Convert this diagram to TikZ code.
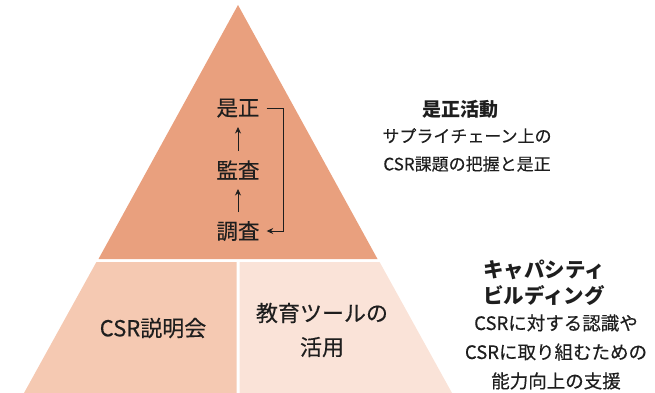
\documentclass[tikz,border=0pt]{standalone}
\usepackage{fontspec}
\setmainfont{Noto Sans CJK JP}
\newfontfamily\medfont{Noto Sans CJK JP}[FakeBold=0.35]
\usetikzlibrary{arrows.meta}
\definecolor{topc}{HTML}{E9A07E}
\definecolor{leftc}{HTML}{F5C9B2}
\definecolor{rightc}{HTML}{FAE3D8}
\definecolor{txt}{HTML}{1E1E1E}
\tikzset{
  steplabel/.style={text=txt, font=\medfont\fontsize{21.5}{24}\selectfont, inner sep=1pt},
  blocklabel/.style={text=txt, font=\medfont\fontsize{22}{34}\selectfont, align=center, inner sep=0pt},
  headlabel/.style={text=txt, font=\bfseries\fontsize{19}{26}\selectfont, align=center, inner sep=0pt},
  headlabelb/.style={text=txt, font=\bfseries\fontsize{20.5}{26}\selectfont, align=center, inner sep=0pt},
  bodylabel/.style={text=txt, font=\medfont\fontsize{17}{28}\selectfont, align=center, inner sep=0pt},
  bodylabelb/.style={text=txt, font=\medfont\fontsize{18.5}{29}\selectfont, align=center, inner sep=0pt},
  flow/.style={draw=txt, line width=0.8pt, -{Stealth[length=6.5pt,width=6pt]}},
}
\begin{document}
\begin{tikzpicture}[x=1pt,y=-1pt]
\useasboundingbox (0,0) rectangle (655,393);
% pyramid
\fill[topc] (238,5) -- (377.5,259) -- (98.5,259) -- cycle;
\fill[leftc] (96.4,262) -- (236.5,262) -- (236.5,393) -- (24,393) -- cycle;
\fill[rightc] (239.5,262) -- (379.6,262) -- (452,393) -- (239.5,393) -- cycle;
% steps
\node[steplabel] (zesei) at (238,108) {是正};
\node[steplabel] (kansa) at (238,170) {監査};
\node[steplabel] (chosa) at (238,231) {調査};
\draw[flow, shorten <=19pt, shorten >=19pt] (kansa.center) -- (zesei.center);
\draw[flow, shorten <=19pt, shorten >=19pt] (chosa.center) -- (kansa.center);
\draw[flow] ([xshift=6pt]zesei.east) -- (283,108) |- ([xshift=6pt]chosa.east);
% bottom blocks
\node[blocklabel] (setsumei) at (153,328) {CSR説明会};
\node[blocklabel] (kyoiku) at (322,330) {教育ツールの\\活用};
% right texts
\node[headlabel] (t1) at (460,109) {是正活動};
\node[bodylabel] (b1) at (467,150) {サプライチェーン上の\\CSR課題の把握と是正};
\node[headlabelb] (t2) at (544,283) {キャパシティ\\ビルディング};
\node[bodylabelb] (b2) at (556,352) {CSRに対する認識や\\CSRに取り組むための\\能力向上の支援};
\end{tikzpicture}
\end{document}
